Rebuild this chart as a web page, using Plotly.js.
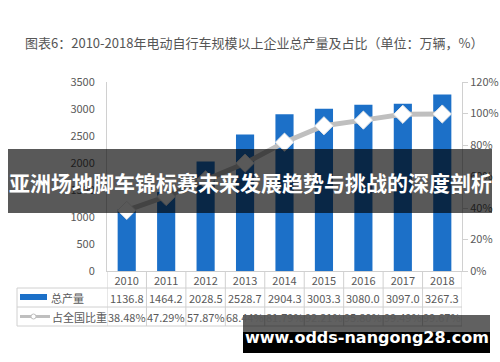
<!DOCTYPE html>
<html><head><meta charset="utf-8">
<script src="https://cdn.plot.ly/plotly-3.0.1.min.js"></script>
<style>html,body{margin:0;padding:0;background:#fff;}#chart{width:500px;height:362px;}</style>
</head><body><div id="chart"></div>
<script>
const years = ['2010','2011','2012','2013','2014','2015','2016','2017','2018'];
const output = [1136.8,1464.2,2028.5,2528.7,2904.3,3003.3,3080.0,3097.0,3267.3];
const share = [38.48,47.29,57.87,68.44,81.79,92.21,95.80,99.49,99.67];
const seriesNames = ['总产量','占全国比重'];
const titleText = '图表6：2010-2018年电动自行车规模以上企业总产量及占比（单位：万辆，%）';
const bannerText = '亚洲场地脚车锦标赛未来发展趋势与挑战的深度剖析';
const siteText = 'www.odds-nangong28.com';

const FONT = '"Noto Sans CJK SC", "Noto Sans", sans-serif';
const TXT = '#595959';
const GRID = '#d0d0d0';
const BLUE = '#1c70c8';
const GRAY = '#bfbfbf';

// pixel helpers -> paper coords (plot area x:107..462, y:82..271)
const L = 107, R = 462, T = 82, B = 271;
const px = x => (x - L) / (R - L);
const py = y => (B - y) / (B - T);

const traces = [
  {type:'bar', x: years, y: output, name: seriesNames[0], marker:{color: BLUE}, width: 0.46, yaxis:'y', hoverinfo:'skip'},
  {type:'scatter', mode:'lines+markers', x: years, y: share.map(v => v/100), name: seriesNames[1], yaxis:'y2',
   line:{color: GRAY, width: 5},
   marker:{symbol:'diamond', size: 14, color:'#ffffff', line:{color:'#e6e6e6', width:1}}, hoverinfo:'skip'}
];

const shapes = [];
const annotations = [];
const rowTop = 271, row2 = 288, row3 = 307, rowEnd = 326;
// vertical column lines in data area
for (let i = 0; i <= years.length; i++) {
  shapes.push({type:'line', xref:'x', yref:'paper', x0: i - 0.5, x1: i - 0.5, y0: py(rowTop), y1: py(rowEnd), line:{color: GRID, width:1}});
}
// left header column borders
shapes.push({type:'line', xref:'paper', yref:'paper', x0: px(17), x1: px(17), y0: py(row2), y1: py(rowEnd), line:{color:GRID, width:1}});
// horizontal lines
[row2, row3, rowEnd].forEach(y => shapes.push({type:'line', xref:'paper', yref:'paper', x0: px(17), x1: 1, y0: py(y), y1: py(y), line:{color:GRID, width:1}}));
// legend icons
shapes.push({type:'rect', xref:'paper', yref:'paper', x0: px(20), x1: px(47), y0: py(294), y1: py(300), fillcolor: BLUE, line:{width:0}});
shapes.push({type:'line', xref:'paper', yref:'paper', x0: px(20), x1: px(50), y0: py(316.5), y1: py(316.5), line:{color: GRAY, width:3}});
shapes.push({type:'circle', xref:'paper', yref:'paper', x0: px(31), x1: px(36), y0: py(314), y1: py(319), fillcolor:'#fff', line:{color:GRAY, width:1}});

const ann = (o) => Object.assign({showarrow:false, xanchor:'center', yanchor:'middle'}, o);
// table values
years.forEach((yr, i) => {
  annotations.push(ann({xref:'x', yref:'paper', x: i, y: py(297.5), text: output[i].toFixed(1), font:{family: FONT, size: 11, color: TXT}}));
  annotations.push(ann({xref:'x', yref:'paper', x: i, y: py(316.5), text: share[i].toFixed(2) + '%', font:{family: FONT, size: 11, color: TXT}}));
});
annotations.push(ann({xref:'paper', yref:'paper', x: px(49), y: py(297.5), xanchor:'left', text: seriesNames[0], font:{family: FONT, size: 11, color: TXT}}));
annotations.push(ann({xref:'paper', yref:'paper', x: px(50), y: py(316.5), xanchor:'left', text: seriesNames[1], font:{family: FONT, size: 11, color: TXT}}));

// banner overlay
shapes.push({type:'rect', xref:'paper', yref:'paper', x0: px(8), x1: px(492), y0: py(149), y1: py(213), fillcolor:'rgba(0,0,0,0.65)', line:{width:0}, layer:'above'});
annotations.push(ann({xref:'paper', yref:'paper', x: px(250), y: py(182), text: '<b>' + bannerText + '</b>', font:{family: FONT, size: 21, color:'#ffffff'}}));

// site watermark
shapes.push({type:'rect', xref:'paper', yref:'paper', x0: px(243), x1: px(490), y0: py(315), y1: py(332), fillcolor:'rgba(0,0,0,0.62)', line:{width:0}, layer:'above'});
shapes.push({type:'rect', xref:'paper', yref:'paper', x0: px(243), x1: px(490), y0: py(332), y1: py(353), fillcolor:'#000000', line:{width:0}, layer:'above'});
annotations.push(ann({xref:'paper', yref:'paper', x: px(366.5), y: py(337), text: '<b>' + siteText + '</b>', font:{family: '"DejaVu Sans", sans-serif', size: 16, color:'#ffffff'}}));

const layout = {
  width: 500, height: 362,
  margin: {l: L, r: 500 - R, t: T, b: 362 - B, pad: 0},
  paper_bgcolor:'#ffffff', plot_bgcolor:'#ffffff',
  showlegend: false,
  title: {text: titleText, x: 25/500, xanchor:'left', xref:'container', y: 1 - 43/362, yanchor:'middle', yref:'container',
          font:{family: FONT, size: 13, color:'#555555'}},
  xaxis: {type:'category', range:[-0.5, 8.5], autorange:false, showline:true, linecolor: GRID, linewidth:1, ticks:'', showgrid:false, zeroline:false,
          tickfont:{family: FONT, size: 11, color: TXT}, fixedrange:true},
  yaxis: {range:[0,3500], dtick: 500, showline:true, linecolor: GRID, linewidth:1, ticks:'outside', ticklen: 9, tickcolor:'rgba(0,0,0,0)',
          showgrid:false, zeroline:false, tickfont:{family: FONT, size: 11, color: TXT}, fixedrange:true},
  yaxis2: {range:[0,1.2], dtick: 0.2, tickformat:'.0%', overlaying:'y', side:'right', showline:true, linecolor: GRID, linewidth:1,
           ticks:'outside', ticklen: 5, tickcolor: GRID, showgrid:false, zeroline:false,
           tickfont:{family: FONT, size: 11, color: TXT}, fixedrange:true},
  shapes: shapes,
  annotations: annotations,
  bargap: 0.5
};
Plotly.newPlot('chart', traces, layout, {staticPlot:true, displayModeBar:false});
</script></body></html>
